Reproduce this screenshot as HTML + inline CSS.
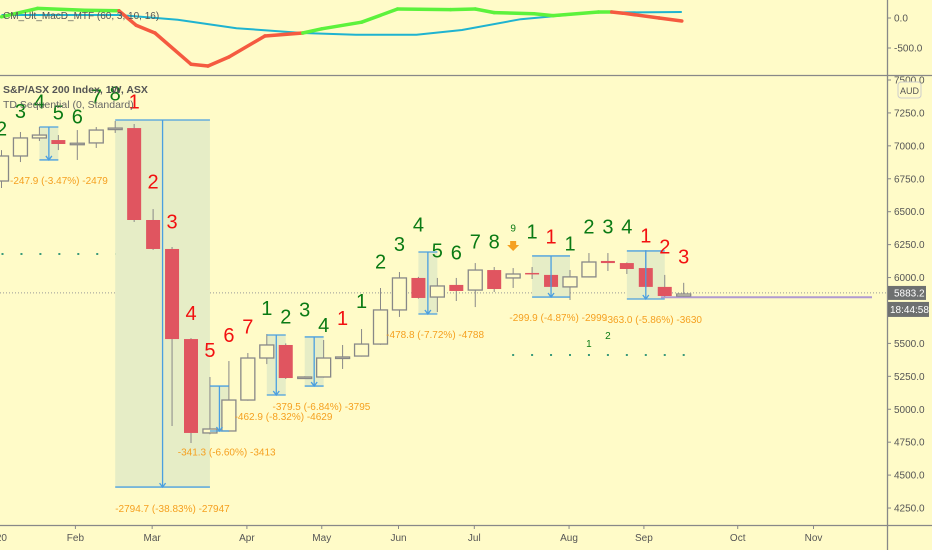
<!DOCTYPE html>
<html><head><meta charset="utf-8"><style>
html,body{margin:0;padding:0;background:#fffbc8;}
svg{display:block;font-family:"Liberation Sans",sans-serif;}
</style></head><body>
<svg id="chart" width="932" height="550" viewBox="0 0 932 550" xmlns="http://www.w3.org/2000/svg">
<rect x="0" y="0" width="932" height="550" fill="#fffbc8"/>
<g id="topPane"></g>
<g id="mainPane"></g>
<g id="axesPane"></g>
</svg>
<script>
// ---- data ----
const opens  = [6733,6923,7060,7044,7014,7022,7130,7135,6437,6217,5533,4820,4835,5070,5389,5488,5237,5245,5390,5404,5495,5754,5997,5852,5944,5905,6057,5997,6035,6020,5929,6005,6126,6110,6072,5929,5860];
const highs  = [6968,7105,7143,7082,7120,7143,7189,7166,6520,6232,5540,5245,5366,5427,5571,5500,5250,5526,5488,5609,5921,6042,6005,5997,5997,6110,6080,6072,6080,6020,6057,6186,6186,6115,6209,6020,5960];
const lows   = [6680,6877,7037,6968,6893,6984,7098,6422,6210,4873,4744,4810,4830,5065,5343,5230,5230,5240,5306,5400,5490,5701,5840,5738,5822,5776,5890,5921,5989,5925,5830,6000,6050,6027,5925,5855,5855];
const closes = [6923,7060,7082,7014,7020,7120,7135,6437,6217,5533,4820,4850,5070,5389,5488,5237,5245,5389,5397,5495,5754,5997,5845,5936,5898,6057,5913,6027,6027,5929,6005,6118,6110,6065,5929,5860,5875];
const lastPrice = 5883.2;
const priceTicks = [7500,7250,7000,6750,6500,6250,6000,5500,5250,5000,4750,4500,4250];
const monthLabels = ["2020","Feb","Mar","Apr","May","Jun","Jul","Aug","Sep","Oct","Nov"];
const monthIdx = [-0.3,3.9,7.95,12.95,16.9,20.95,24.95,29.95,33.9,38.85,42.85];
const tdIdx   = [0,1,2,3,4,5,6,7,8,9,10,11,12,13,14,15,16,17,18,19,20,21,22,23,24,25,26,27,28,29,30,31,32,33,34,35,36];
const tdText  = ["2","3","4","5","6","7","8","1","2","3","4","5","6","7","1","2","3","4","1","1","2","3","4","5","6","7","8","9","1","1","1","2","3","4","1","2","3"];
const tdPrice = [7120,7250,7325,7240,7210,7363,7386,7325,6718,6414,5716,5435,5549,5617,5754,5693,5746,5625,5678,5807,6110,6240,6391,6194,6179,6262,6262,6369,6338,6300,6247,6376,6376,6376,6308,6224,6148];
const tdRed   = [0,0,0,0,0,0,0,1,1,1,1,1,1,1,0,0,0,0,1,0,0,0,0,0,0,0,0,0,0,1,0,0,0,0,1,1,1];
const boxStart = [2,6,11,14,16,22,28,33];
const boxEnd   = [3,11,12,15,17,23,30,35];
const boxTop   = [7143,7196,5176,5564,5549,6194,6164,6202];
const boxBot   = [6893,4409,4835,5108,5176,5723,5852,5837];
const boxLabel = ["-247.9 (-3.47%) -2479","-2794.7 (-38.83%) -27947","-462.9 (-8.32%) -4629","-379.5 (-6.84%) -3795","","-478.8 (-7.72%) -4788","-299.9 (-4.87%) -2999","-363.0 (-5.86%) -3630"];
const labelIdx   = [0.45,6.0,12.3,14.3,0,20.3,26.8,31.8];
const labelPrice = [6710,4220,4918,4994,0,5541,5670,5655];
const extraLabel = "-341.3 (-6.60%) -3413";
const macdIdx = [0,1.9,4.4,6.2,7.1,8.1,10,10.9,12,13.9,15.9,16.9,19,20.9,23.7,25,26,28.1,29.1,31.5,32.2,32.8,34.7,35.9];
const macdVal = [20,160,130,120,-120,-250,-770,-800,-650,-300,-250,-180,-70,150,140,150,90,70,40,100,100,80,0,-50];
const macdUp  = [1,1,1,1,0,0,0,0,0,0,0,1,1,1,1,1,1,1,1,1,1,0,0,0];
const sigIdx = [0,6.2,9.3,12.4,15.9,18.7,21.9,24.3,27.4,31.2,35.9];
const sigVal = [50,50,-30,-170,-250,-280,-280,-200,-20,90,100];

const NS="http://www.w3.org/2000/svg";
const xOf = i => 1.5 + i*18.95;
const yOf = v => 80 + (7500 - v)/7.593;
const myOf = v => 18 - v*0.06;
function el(tag, attrs, parent){const e=document.createElementNS(NS,tag);for(const k in attrs)e.setAttribute(k,attrs[k]);parent.appendChild(e);return e;}
const mainG=document.getElementById('mainPane'), topG=document.getElementById('topPane'), axesG=document.getElementById('axesPane');

let sp=sigIdx.map((d,i)=>xOf(d)+','+myOf(sigVal[i])).join(' ');
let sl=el('polyline',{points:sp,fill:'none',stroke:'#1fb3d0','stroke-width':2},topG);


for(let i=0;i<macdIdx.length-1;i++){
  const s=el('line',{x1:xOf(macdIdx[i]),y1:myOf(macdVal[i]),x2:xOf(macdIdx[i+1]),y2:myOf(macdVal[i+1]),stroke:macdUp[i+1]?'#5cf23c':'#f55a40','stroke-width':3.5,'stroke-linecap':'round'},topG);
  
  
}
let mt=el('text',{x:3,y:19,'font-size':10,fill:'#555'},topG);mt.textContent="CM_Ult_MacD_MTF (60, 3, 10, 16)";



let pl=el('line',{x1:0,x2:887,y1:yOf(lastPrice),y2:yOf(lastPrice),stroke:'#999','stroke-width':1,'stroke-dasharray':'1,2'},mainG);


for(let i=0;i<9;i++){const d=el('rect',{x:xOf(i),y:253,width:2,height:2,fill:'#3a9a7a'},mainG);}
for(let i=27;i<=36;i++){const d=el('rect',{x:xOf(i)-1,y:354,width:2,height:2,fill:'#3a9a7a'},mainG);}

for(let b=0;b<boxStart.length;b++){
  const x1=xOf(boxStart[b]), x2=xOf(boxEnd[b]), y1=yOf(boxTop[b]), y2=yOf(boxBot[b]);
  const r=el('rect',{x:x1,y:y1,width:x2-x1,height:y2-y1,fill:'#e6edc6'},mainG);
  
  
}
let pu=el('line',{x1:xOf(34.8),x2:872,y1:yOf(5850),y2:yOf(5850),stroke:'#b09ad0','stroke-width':2},mainG);



for(let i=0;i<opens.length;i++){
  const x=xOf(i), up=closes[i]>=opens[i];
  const w=el('line',{x1:x,x2:x,y1:yOf(highs[i]),y2:yOf(lows[i]),stroke:'#888','stroke-width':1},mainG);
  
  
  const t=yOf(Math.max(opens[i],closes[i])), bt=yOf(Math.min(opens[i],closes[i]));
  const r=el('rect',{x:x-7,y:t,width:14,height:Math.max(1.5,bt-t),fill:up?'#fffbc8':'#e05560',stroke:up?'#888':'none','stroke-width':1.3},mainG);
  
  
}
for(let b=0;b<boxStart.length;b++){
  const x1=xOf(boxStart[b]), x2=xOf(boxEnd[b]), y1=yOf(boxTop[b]), y2=yOf(boxBot[b]), xm=(x1+x2)/2;
  const g=el('g',{stroke:'#4a9fe0','stroke-width':1.3,fill:'none'},mainG);
  
  
  el('line',{x1:x1,x2:x2,y1:y1,y2:y1},g);
  el('line',{x1:x1,x2:x2,y1:y2,y2:y2},g);
  el('line',{x1:xm,x2:xm,y1:y1,y2:y2},g);
  el('polyline',{points:(xm-3)+','+(y2-4)+' '+xm+','+y2+' '+(xm+3)+','+(y2-4)},g);
  if(boxLabel[b]){
    const tx=el('text',{x:xOf(labelIdx[b]),y:yOf(labelPrice[b]),'font-size':10,fill:'#f5a020'},mainG);
    tx.textContent=boxLabel[b];
    
    
  }
}
let ex=el('text',{x:xOf(9.3),y:yOf(4650),'font-size':10,fill:'#f5a020'},mainG);ex.textContent=extraLabel;



for(let k=0;k<tdIdx.length;k++){
  const small=tdText[k]==="9";
  const t=el('text',{x:xOf(tdIdx[k]),y:yOf(tdPrice[k]),'font-size':small?10:20,'text-anchor':'middle','dominant-baseline':'middle',fill:tdRed[k]?'#f21010':'#0a7a14'},mainG);
  t.textContent=tdText[k];
  
  
}
let oa=el('path',{d:'M'+(xOf(27)-3)+' 241 h6 v4 h3 l-6 6 l-6 -6 h3 z',fill:'#f5a020'},mainG);


let s1=el('text',{x:xOf(31),y:347,'font-size':10,'text-anchor':'middle',fill:'#0a7a14'},mainG);s1.textContent="1";


let s2=el('text',{x:xOf(32),y:339,'font-size':10,'text-anchor':'middle',fill:'#0a7a14'},mainG);s2.textContent="2";



let l1=el('text',{x:3,y:93,'font-size':10.5,'font-weight':'bold',fill:'#555'},mainG);l1.textContent="S&P/ASX 200 Index, 1W, ASX";


let l2=el('text',{x:3,y:108,'font-size':10.5,fill:'#666'},mainG);l2.textContent="TD Sequential (0, Standard)";



el('line',{x1:0,x2:932,y1:75.5,y2:75.5,stroke:'#888','stroke-width':1.3},axesG);
el('line',{x1:887.5,x2:887.5,y1:0,y2:550,stroke:'#888','stroke-width':1.3},axesG);
el('line',{x1:0,x2:932,y1:525.5,y2:525.5,stroke:'#888','stroke-width':1.3},axesG);
[[0,'0.0'],[-500,'-500.0']].forEach(p=>{
  el('line',{x1:887,x2:891,y1:myOf(p[0]),y2:myOf(p[0]),stroke:'#888'},axesG);
  const t=el('text',{x:894,y:myOf(p[0])+3.5,'font-size':10,fill:'#555'},axesG);t.textContent=p[1];
  
  
});
for(const v of priceTicks){
  el('line',{x1:887,x2:891,y1:yOf(v),y2:yOf(v),stroke:'#888'},axesG);
  const t=el('text',{x:894,y:yOf(v)+3.5,'font-size':10,fill:'#555'},axesG);t.textContent=v.toFixed(1);
  
  
}
let aud=el('rect',{x:898,y:82,width:23,height:16,rx:3,fill:'#fffbc8',stroke:'#ccc'},axesG);


let at=el('text',{x:909.5,y:94,'font-size':9,'text-anchor':'middle',fill:'#555'},axesG);at.textContent="AUD";
let pb=el('rect',{x:888,y:yOf(lastPrice)-7,width:38,height:14,fill:'#6e7070'},axesG);


let pt=el('text',{x:894,y:yOf(lastPrice)+3.5,'font-size':10,fill:'#fff'},axesG);pt.textContent=lastPrice.toFixed(1);
let tb=el('rect',{x:888,y:yOf(lastPrice)+9,width:41,height:15,fill:'#6e7070'},axesG);


let tt=el('text',{x:890,y:yOf(lastPrice)+20,'font-size':10,fill:'#fff'},axesG);tt.textContent="18:44:58";
for(let k=0;k<monthLabels.length;k++){
  const x=xOf(monthIdx[k]);
  el('line',{x1:x,x2:x,y1:525,y2:529,stroke:'#888'},axesG);
  const t=el('text',{x:x,y:541,'font-size':10,'text-anchor':'middle',fill:'#555'},axesG);t.textContent=monthLabels[k];
  
  
}
</script>
</body></html>
